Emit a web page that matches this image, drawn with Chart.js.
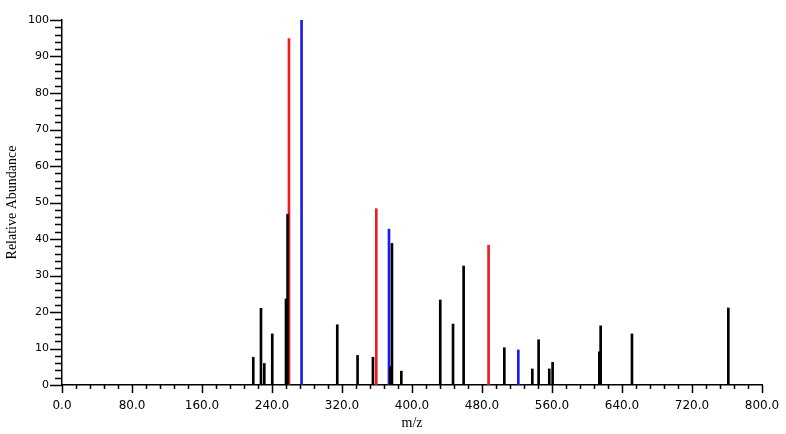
<!DOCTYPE html>
<html>
<head>
<meta charset="utf-8">
<script src="https://cdn.jsdelivr.net/npm/chart.js@4/dist/chart.umd.min.js"></script>
<style>
  html, body { margin: 0; padding: 0; background: #fff; }
  #wrap { width: 786px; height: 434px; }
</style>
</head>
<body>
<div id="wrap"><canvas id="spec" width="786" height="434"></canvas></div>
<script>
// peaks (m/z, relative abundance)
const mzBlack = [218.6, 227.4, 231.2, 240.3, 256.0, 257.8, 314.6, 337.8, 355.4, 375.2, 377.1, 387.8,
                 432.3, 446.9, 459.0, 505.5, 537.5, 544.7, 556.9, 560.7, 614.1, 615.6, 651.4, 761.5];
const abBlack = [7.6, 21.0, 5.9, 14.0, 23.6, 46.8, 16.5, 8.1, 7.6, 5.0, 38.8, 3.8,
                 23.3, 16.7, 32.6, 10.2, 4.4, 12.4, 4.4, 6.2, 9.1, 16.2, 14.0, 21.1];
const mzRed = [259.4, 359.2, 487.5];
const abRed = [94.9, 48.3, 38.3];
const mzBlue = [273.8, 373.7, 521.5];
const abBlue = [100, 42.7, 9.6];

const xTicks = [0, 80, 160, 240, 320, 400, 480, 560, 640, 720, 800];
const yTicks = [0, 10, 20, 30, 40, 50, 60, 70, 80, 90, 100];

const toPoints = (xs, ys) => xs.map((x, i) => ({ x: x, y: ys[i] }));

// tick marks (major + minor) drawn against the chart's own scales
const tickMarks = {
    id: 'tickMarks',
    afterDraw(chart) {
        const ctx = chart.ctx;
        const xs = chart.scales.x;
        const ys = chart.scales.y;
        const y0 = ys.getPixelForValue(0);
        const x0 = xs.getPixelForValue(0);
        ctx.save();
        ctx.strokeStyle = '#000';
        ctx.lineWidth = 1.5;
        ctx.beginPath();
        for (let v = 0; v <= 800; v += 16) {
            const px = Math.round(xs.getPixelForValue(v)) + 0.5;
            const len = v % 80 === 0 ? 8 : 4;
            ctx.moveTo(px, y0);
            ctx.lineTo(px, y0 + len);
        }
        for (let v = 0; v <= 100; v += 2) {
            const py = Math.round(ys.getPixelForValue(v)) + 0.5;
            const len = v % 10 === 0 ? 12 : 7;
            ctx.moveTo(x0, py);
            ctx.lineTo(x0 - len, py);
        }
        ctx.stroke();
        ctx.restore();
    }
};

new Chart(document.getElementById('spec').getContext('2d'), {
    type: 'bar',
    data: {
        datasets: [
            { label: 'other', data: toPoints(mzBlack, abBlack), backgroundColor: '#000' },
            { label: 'red', data: toPoints(mzRed, abRed), backgroundColor: '#f01c1c' },
            { label: 'blue', data: toPoints(mzBlue, abBlue), backgroundColor: '#1c1cea' }
        ]
    },
    options: {
        responsive: false,
        animation: false,
        devicePixelRatio: 1,
        layout: { padding: { top: 20, right: 24, left: 0, bottom: 0 } },
        datasets: { bar: { barThickness: 2, grouped: false, borderWidth: 0 } },
        plugins: { legend: { display: false }, tooltip: { enabled: false } },
        scales: {
            x: {
                type: 'linear',
                min: 0,
                max: 800,
                offset: false,
                afterFit: (s) => { s.height = 49; s.paddingLeft = 0; s.paddingRight = 0; },
                afterBuildTicks: (s) => { s.ticks = xTicks.map(v => ({ value: v })); },
                ticks: {
                    padding: 14,
                    color: '#000',
                    font: { family: 'DejaVu Sans', size: 12 },
                    maxRotation: 0,
                    callback: (v) => Number(v).toFixed(1)
                },
                grid: { display: true, drawOnChartArea: false, drawTicks: false },
                border: { display: true, color: '#000', width: 1.5 },
                title: {
                    display: true,
                    text: 'm/z',
                    color: '#000',
                    font: { family: 'Liberation Serif', size: 14 },
                    padding: { top: 0, bottom: 2 }
                }
            },
            y: {
                min: 0,
                max: 100,
                afterFit: (s) => { s.width = 62; s.paddingTop = 0; s.paddingBottom = 0; },
                afterBuildTicks: (s) => { s.ticks = yTicks.map(v => ({ value: v })); },
                ticks: {
                    padding: 13,
                    color: '#000',
                    font: { family: 'DejaVu Sans', size: 11 }
                },
                grid: { display: true, drawOnChartArea: false, drawTicks: false },
                border: { display: true, color: '#000', width: 1.5 },
                title: {
                    display: true,
                    text: 'Relative Abundance',
                    color: '#000',
                    font: { family: 'Liberation Serif', size: 14 },
                    padding: { top: 4, bottom: 0 }
                }
            }
        }
    },
    plugins: [tickMarks]
});
</script>
</body>
</html>
